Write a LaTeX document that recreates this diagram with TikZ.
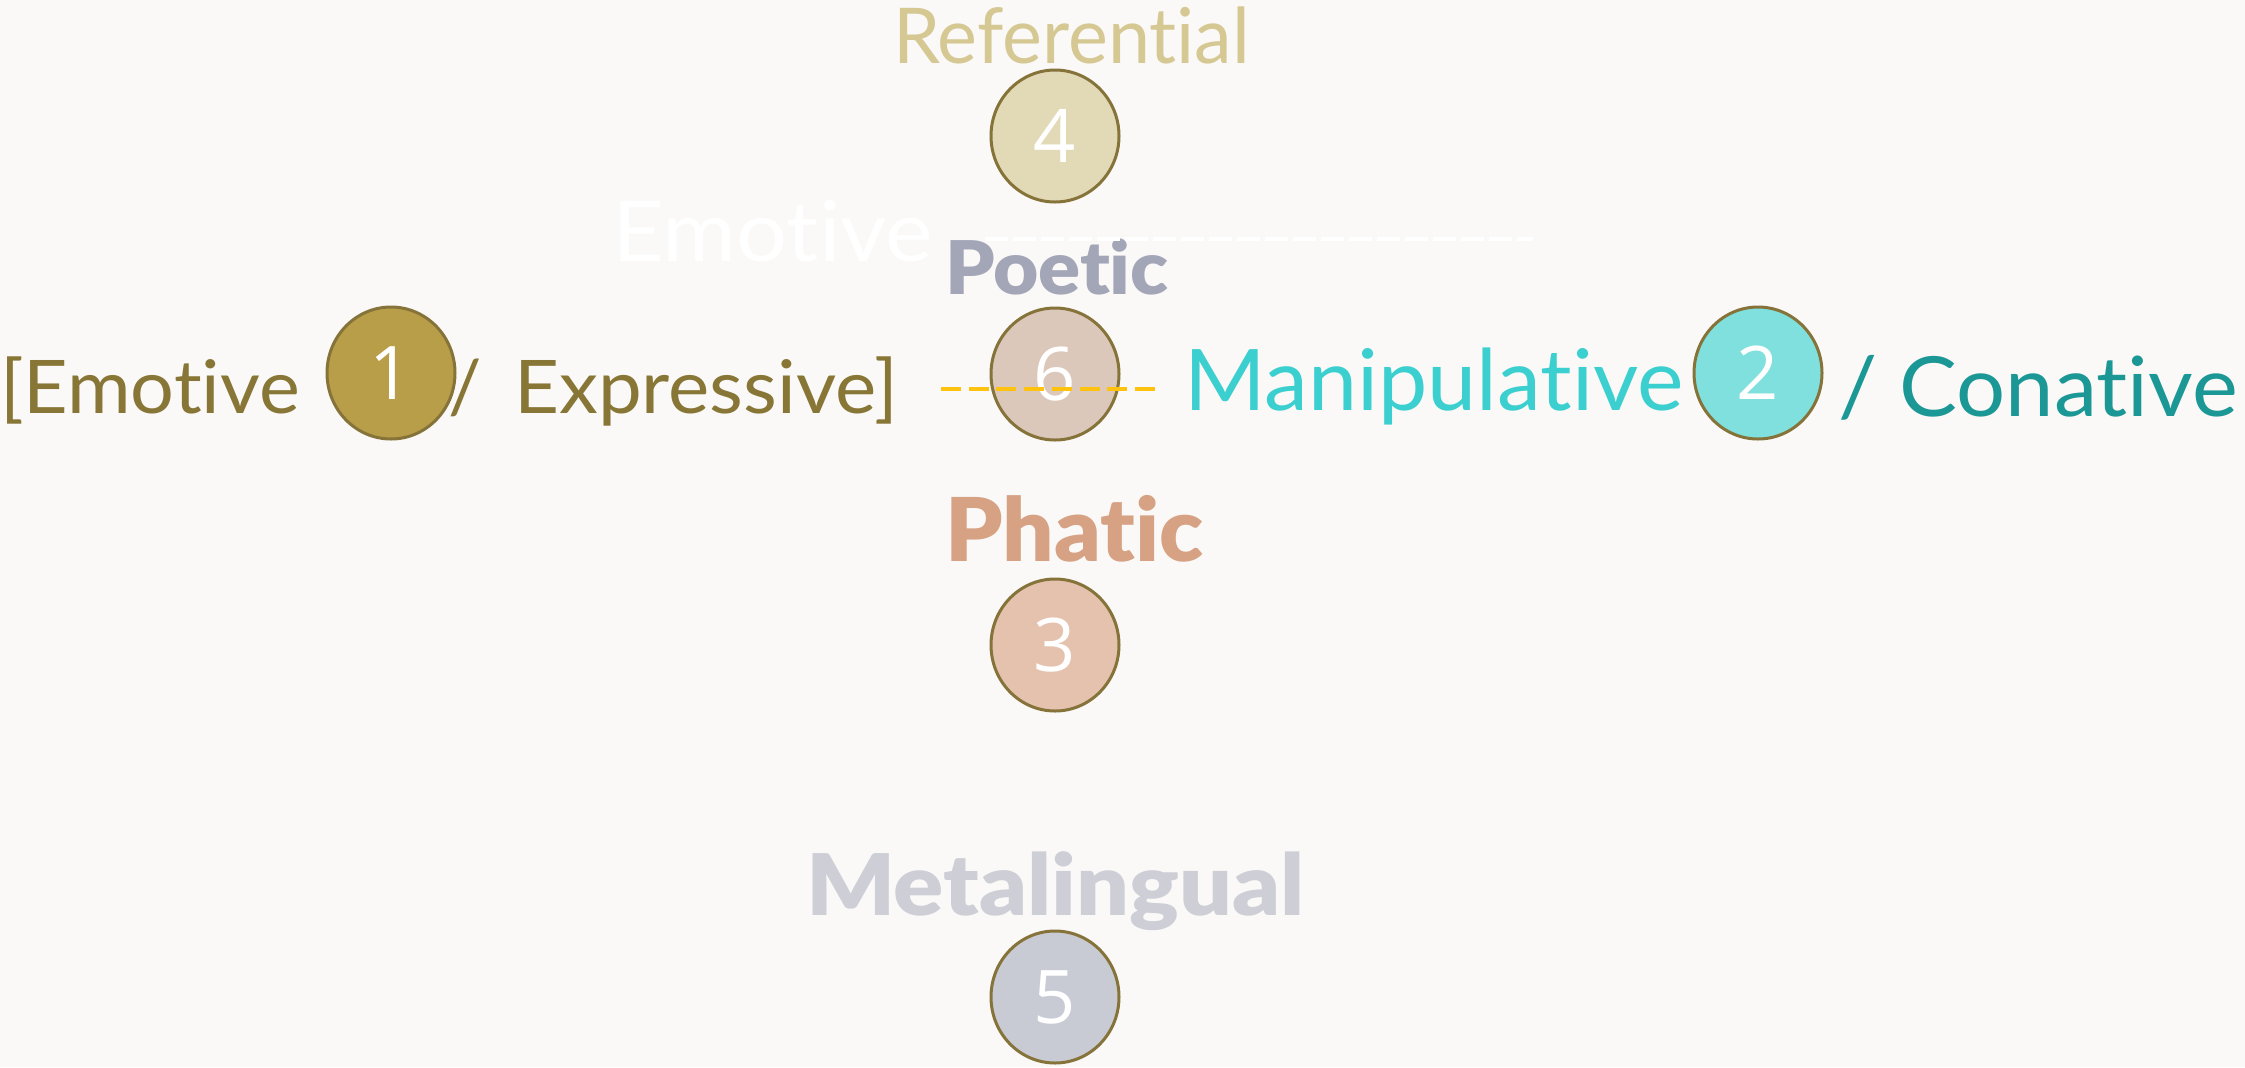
\documentclass[tikz,border=0pt]{standalone}
\usepackage{fontspec}
\usepackage{graphicx}
\setmainfont{Lato}[Ligatures={NoCommon,NoRare}]
\newfontfamily\heavyfont{Lato Black}[Ligatures={NoCommon,NoRare}]
\newfontfamily\digitfont{Open Sans}
\usetikzlibrary{shapes.geometric}
\definecolor{bg}{HTML}{FAF9F7}
\definecolor{rim}{HTML}{86733A}
\definecolor{olive}{HTML}{877636}
\definecolor{goldfill}{HTML}{B89E48}
\definecolor{tealfill}{HTML}{7FE0DD}
\definecolor{cyantext}{HTML}{3CCFCF}
\definecolor{tealtext}{HTML}{1B9796}
\definecolor{reffill}{HTML}{E2DAB6}
\definecolor{reftext}{HTML}{D6C893}
\definecolor{poetfill}{HTML}{DBC8BB}
\definecolor{poettext}{HTML}{A3A6B7}
\definecolor{phatfill}{HTML}{E4C2AE}
\definecolor{phattext}{HTML}{D6A283}
\definecolor{metafill}{HTML}{C9CBD4}
\definecolor{metatext}{HTML}{CDCED6}
\definecolor{dashy}{HTML}{FFC20E}
\newcommand{\fsz}[1]{\fontsize{#1}{#1}\selectfont}
\newcommand{\hs}[2]{\scalebox{#1}[1]{#2}}
\tikzset{
  numdisc/.style={ellipse, draw=rim, line width=1.5pt, minimum width=64pt,
    minimum height=66pt, inner sep=0pt, text=white, font=\digitfont\fsz{37pt}},
  lbl/.style={anchor=base west, inner sep=0pt, outer sep=0pt},
  plain/.style={lbl, font=\fsz{37pt}},
  heavy/.style={lbl, font=\heavyfont\fsz{#1}},
}
\begin{document}
\begin{tikzpicture}[x=0.5pt, y=-0.5pt]
\useasboundingbox (0,0) rectangle (2245,1067);
\fill[bg] (0,0) rectangle (2245,1067);

% discs
\node[numdisc, fill=goldfill] (c1) at (391,373) {1};
\node[numdisc, fill=tealfill] (c2) at (1758,373) {2};
\node[numdisc, fill=phatfill] (c3) at (1055,645) {3};
\node[numdisc, fill=reffill]  (c4) at (1055,136) {4};
\node[numdisc, fill=metafill] (c5) at (1055,997) {5};
\node[numdisc, fill=poetfill] (c6) at (1055,374) {6};

% labels
\node[lbl, font=\fsz{38.5pt}, text=reftext] (tref) at (893,63) {\hs{0.98}{Referential}};
\node[lbl, font=\fsz{42pt}, text=white] (tghost) at (612,261) {\hs{1.07}{Emotive}};
\node[heavy=37pt, text=poettext] (tpoet) at (945,294) {\hs{1.055}{Poetic}};
\node[heavy=44pt, text=phattext] (tphat) at (945,561) {\hs{1.03}{Phatic}};
\node[heavy=42.5pt, text=metatext] (tmeta) at (806,915) {\hs{1.095}{Metalingual}};
\node[plain, text=olive] (temo) at (0,413) {\hs{1.045}{[Emotive}};
\node[plain, text=olive] (tsl1) at (448,413) {/};
\node[plain, text=olive] (texp) at (514,413) {\hs{1.055}{Expressive]}};
\node[lbl, font=\fsz{42.5pt}, text=cyantext] (tman) at (1184,410) {\hs{1.035}{Manipulative}};
\node[lbl, font=\fsz{41.5pt}, text=tealtext] (tcon) at (1838,416) {\hs{1.045}{/ Conative}};

% dashed lines
\coordinate (wa) at (985,239);
\coordinate (wb) at (1533,239);
\draw[white, line width=2pt, dash pattern=on 11.5pt off 2.5pt] (wa) -- (wb);
\coordinate (ya) at (941,389);
\coordinate (yb) at (1155,389);
\draw[dashy, line width=2pt, dash pattern=on 10pt off 3.85pt] (ya) -- (yb);
\end{tikzpicture}
\end{document}
